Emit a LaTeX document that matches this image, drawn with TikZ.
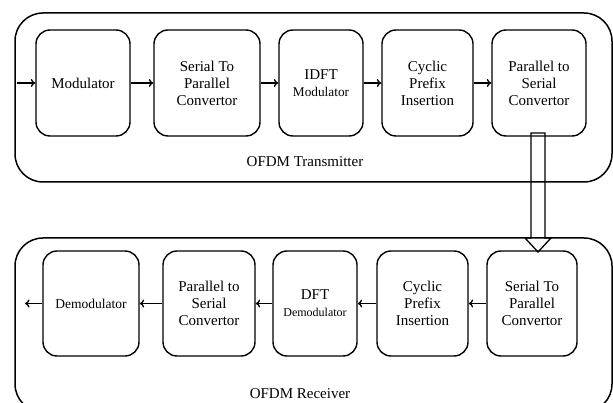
\documentclass[tikz,border=0pt]{standalone}
\usepackage{fontspec}
\setmainfont{Liberation Serif}
\usetikzlibrary{arrows.meta}
\begin{document}
\begin{tikzpicture}[x=1pt,y=-1pt,
  frame/.style={draw, line width=1.5pt, rounded corners=28pt},
  blk/.style={draw, line width=1.4pt, rounded corners=14pt, align=center,
    inner sep=0pt, font=\fontsize{15}{17}\selectfont},
  flow/.style={line width=1.3pt, -{To[length=4.5pt,width=8pt]}},
  lbl/.style={font=\fontsize{15}{17}\selectfont, inner sep=0pt}]
\useasboundingbox (0,0) rectangle (613,403);
% outer frames
\begin{scope}
\clip (0,0) rectangle (613,403);
\draw[frame] (15,13) rectangle (612,182);
\draw[frame] (15,238) rectangle (612,412);
\end{scope}
\node[lbl] (tx) at (305,162) {OFDM Transmitter};
\node[lbl] (rx) at (300,394) {OFDM Receiver};
% transmitter blocks
\node[blk, minimum width=94pt, minimum height=106pt] (mod) at (83,83) {Modulator};
\node[blk, minimum width=106pt, minimum height=106pt] (s2p) at (207,83) {Serial To\\Parallel\\Convertor};
\node[blk, minimum width=84pt, minimum height=106pt] (idft) at (321,83) {IDFT\\{\fontsize{13.3}{17}\selectfont Modulator}};
\node[blk, minimum width=91pt, minimum height=106pt] (cp) at (427.5,83) {Cyclic\\Prefix\\Insertion};
\node[blk, minimum width=94pt, minimum height=106pt] (p2s) at (539,83) {Parallel to\\Serial\\Convertor};
% receiver blocks
\node[blk, minimum width=96pt, minimum height=105pt] (demod) at (91,303.5) {\fontsize{13.5}{17}\selectfont Demodulator};
\node[blk, minimum width=92pt, minimum height=105pt] (p2sr) at (209,303.5) {Parallel to\\Serial\\Convertor};
\node[blk, minimum width=84pt, minimum height=105pt] (dft) at (315,303.5) {DFT\\{\fontsize{12}{17}\selectfont Demodulator}};
\node[blk, minimum width=91pt, minimum height=105pt] (cpr) at (422.5,303.5) {Cyclic\\Prefix\\Insertion};
\node[blk, minimum width=90pt, minimum height=105pt] (s2pr) at (532,303.5) {Serial To\\Parallel\\Convertor};
% connectors
\coordinate (in) at (17,83);
\coordinate (out) at (25,303.5);
\draw[flow] (in) -- (mod.west);
\draw[flow] (mod) -- (s2p);
\draw[flow] (s2p) -- (idft);
\draw[flow] (idft) -- (cp);
\draw[flow] (cp) -- (p2s);
\draw[flow] (s2pr) -- (cpr);
\draw[flow] (cpr) -- (dft);
\draw[flow] (dft) -- (p2sr);
\draw[flow] (p2sr) -- (demod);
\draw[flow] (demod.west) -- (out);
% hollow arrow
\draw[line width=1.3pt, line join=miter]
  (531,133) -- (545,133) -- (545,238) -- (551,238) -- (538,252)
  -- (525,238) -- (531,238) -- cycle;
\end{tikzpicture}
\end{document}
